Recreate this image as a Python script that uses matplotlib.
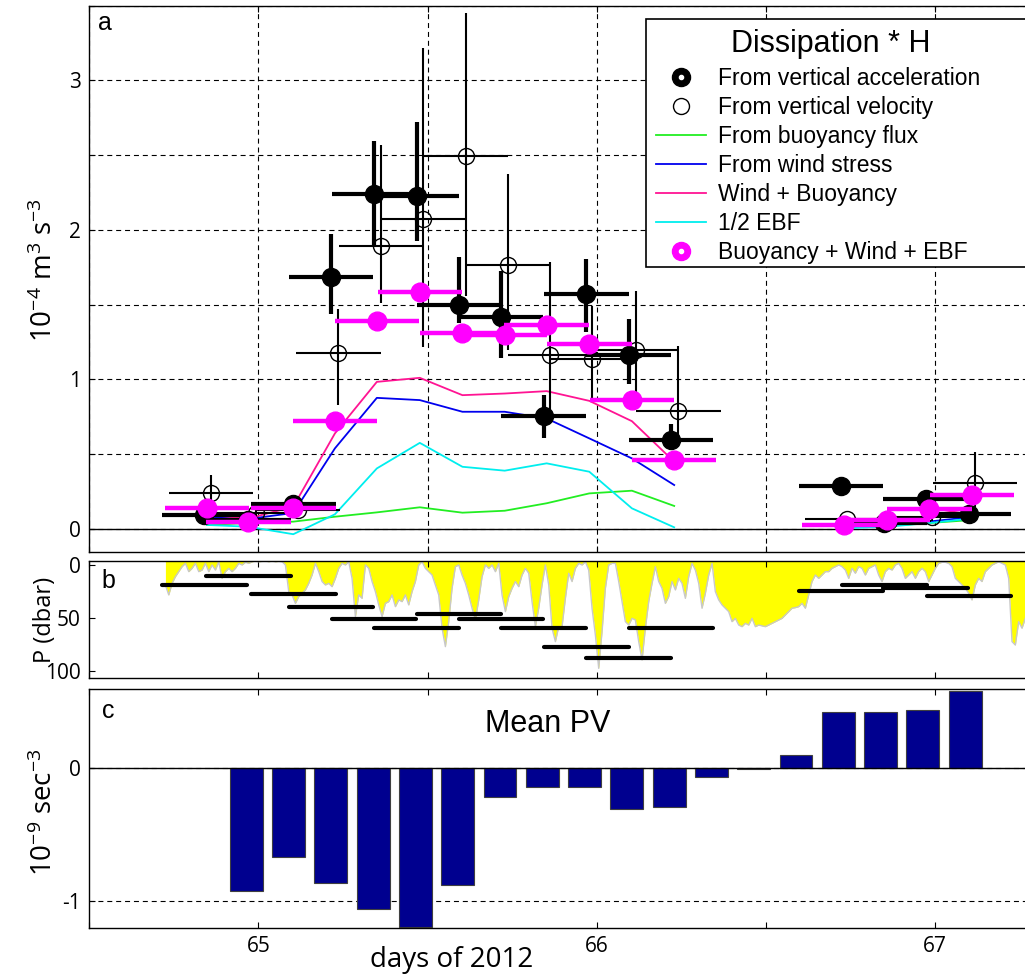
import numpy as np
import matplotlib
matplotlib.use("Agg")
import matplotlib.pyplot as plt
from matplotlib.lines import Line2D
from matplotlib.patches import Rectangle
from matplotlib.legend_handler import HandlerTuple

plt.rcParams["mathtext.default"] = "regular"

# ---------------- data ----------------
window = 0.25  # averaging window of each estimate (days)

# Dissipation*H from vertical acceleration (1e-4 m^3 s^-3)
acc_day = [64.840, 64.970, 65.103, 65.215, 65.342, 65.468, 65.593, 65.717,
           65.843, 65.969, 66.094, 66.220, 66.722, 66.850, 66.972, 67.101]
acc_val = [0.094, 0.060, 0.167, 1.683, 2.238, 2.224, 1.496, 1.418,
           0.755, 1.574, 1.162, 0.595, 0.287, 0.038, 0.198, 0.100]
acc_lo = [0.07, 0.04, 0.14, 1.44, 1.886, 1.926, 1.376, 1.142,
          0.608, 1.318, 0.973, 0.528, 0.27, 0.02, 0.18, 0.08]
acc_hi = [0.12, 0.08, 0.19, 1.97, 2.594, 2.719, 1.819, 1.725,
          0.895, 1.804, 1.407, 0.701, 0.31, 0.06, 0.22, 0.12]

# Dissipation*H from vertical velocity
vel_day = [64.860, 64.993, 65.117, 65.236, 65.362, 65.485, 65.613, 65.738,
           65.862, 65.987, 66.116, 66.241, 66.741, 66.864, 66.991, 67.118]
vel_val = [0.243, 0.107, 0.127, 1.174, 1.890, 2.075, 2.494, 1.764,
           1.162, 1.140, 1.196, 0.790, 0.065, 0.050, 0.080, 0.309]
vel_lo = [0.13, 0.07, 0.09, 0.828, 1.51, 1.218, 1.56, 1.20,
          0.75, 0.85, 0.84, 0.55, 0.04, 0.03, 0.05, 0.15]
vel_hi = [0.36, 0.14, 0.16, 1.474, 2.565, 3.22, 3.449, 2.376,
          1.786, 1.49, 1.592, 1.222, 0.09, 0.07, 0.11, 0.516]

# forcing estimates
frc_day = [64.848, 64.970, 65.103, 65.226, 65.350, 65.477, 65.603, 65.728,
           65.852, 65.978, 66.104, 66.229, 66.731, 66.859, 66.983, 67.109]
buoy = [0.027, 0.040, 0.049, 0.082, 0.111, 0.145, 0.109, 0.122,
        0.172, 0.238, 0.256, 0.154, 0.010, 0.020, 0.040, 0.060]
wind = [0.080, 0.067, 0.107, 0.539, 0.877, 0.862, 0.784, 0.784,
        0.739, 0.606, 0.472, 0.294, 0.015, 0.025, 0.050, 0.080]
wind_buoy = [0.095, 0.070, 0.149, 0.639, 0.984, 1.011, 0.895, 0.906,
             0.922, 0.857, 0.721, 0.450, 0.025, 0.045, 0.090, 0.140]
half_ebf = [0.027, 0.015, -0.035, 0.098, 0.405, 0.576, 0.416, 0.390,
            0.439, 0.383, 0.138, 0.011, 0.005, 0.015, 0.040, 0.070]
total = [0.140, 0.047, 0.140, 0.721, 1.392, 1.585, 1.314, 1.296,
         1.363, 1.236, 0.862, 0.461, 0.027, 0.060, 0.131, 0.227]

# float pressure for each estimate (dbar)
press_val = [18.5, 10.0, 27.5, 39.7, 50.5, 58.9, 46.3, 50.5,
             59.5, 76.8, 87.7, 59.2, 24.5, 19.1, 21.3, 29.2]

# mixed layer depth record (dbar), evenly sampled
mld_start, mld_end = 64.725, 67.267
mld = [18.8, 28.2, 17.3, 11.0, 6.3, 1.6, -1.5, 6.3, 3.2, -1.5,
       6.3, 4.8, -1.5, 6.3, 0.0, 4.8, -3.0, 12.6, 6.3, 3.2,
       6.3, 3.2, -1.5, 0.0, -2.5, -1.5, -3.0, -3.7, -3.0, -3.4,
       -3.7, -3.0, -3.7, -3.0, -3.4, -3.0, 0.0, 25.1, 28.2, 36.1,
       29.8, 26.6, 23.5, 17.3, 9.5, -1.5, 6.3, 15.6, 18.8, 17.3,
       20.4, 12.6, 3.2, -1.5, 0.0, -3.0, 12.6, 48.6, 28.2, 31.4,
       0.0, 3.2, 15.6, 25.1, 37.6, 48.6, 36.1, 34.5, 28.2, 39.2,
       32.9, 34.5, 28.2, 37.6, 25.1, 15.6, 0.0, -3.0, 3.2, 6.3,
       9.5, 18.8, 28.2, 59.5, 76.8, 53.3, 22.0, 1.6, 0.0, 9.5,
       17.3, 28.2, 40.7, 51.7, 32.9, 11.0, 0.0, 3.2, 0.0, 6.3,
       -1.5, 28.2, 43.9, 29.8, 22.0, 15.6, 20.4, 9.5, 3.2, 7.8,
       34.5, 58.0, 40.7, 18.8, 0.0, 18.8, 59.5, 72.1, 58.0,
       58.0, 31.4, 7.8, 15.6, 3.2, -1.5, 0.0, -3.0, 4.8, 40.7,
       65.8, 97.2, 62.7, 22.0, 0.0, -1.5, -1.5, 15.6, 34.5, 53.3,
       56.5, 50.2, 51.7, 72.1, 89.4, 59.5, 34.5, 17.3, 1.6, 15.6,
       22.0, 36.1, 29.8, 15.6, 23.5, 12.6, 17.3, 31.4, 11.0, -1.5,
       4.8, 17.3, 40.7, 26.6, 9.5, -1.5, 25.1, 32.9, 37.6, 40.7,
       43.9, 53.3, 50.2, 56.5, 58.0, 54.9, 56.5, 50.2, 58.0, 56.5,
       57.3, 58.0, 56.5, 54.9, 53.3, 51.7, 50.2, 47.0, 43.9, 40.7,
       40.1, 39.2, 36.1, 40.7, 28.2, 15.6, 9.5, 12.6, 9.5, 6.3,
       6.3, 3.2, 1.6, 0.0, 1.6, 4.8, 12.6, 3.2, 7.8, 1.6,
       3.2, 9.5, 3.2, 1.6, 0.0, 9.5, 15.6, 6.3, 3.2, 4.8,
       0.0, -1.5, 3.2, 12.6, 9.5, 6.3, 12.6, 6.3, 3.2, 6.3,
       15.6, 9.5, 3.2, -1.5, -2.5, -2.5, -1.5, 1.6, 12.6, 15.6,
       18.8, 22.0, 26.6, 32.9, 18.8, 12.6, 15.6, 6.3, 3.2, 0.0,
       -1.5, -3.0, -1.5, 0.0, 12.6, 72.1, 75.3, 53.3, 59.5, 50.2]

# mean potential vorticity (1e-9 s^-3)
pv_day = [64.964, 65.089, 65.214, 65.339, 65.464, 65.589, 65.714, 65.839, 65.964,
          66.089, 66.214, 66.339, 66.464, 66.589, 66.714, 66.839, 66.964, 67.089]
pv_val = [-0.925, -0.673, -0.867, -1.065, -1.196, -0.879, -0.221, -0.141, -0.141,
          -0.311, -0.294, -0.065, -0.010, 0.095, 0.424, 0.420, 0.440, 0.583]
pv_width = 0.097

# ---------------- figure ----------------
W, H = 1025, 976
fig = plt.figure(figsize=(W / 100, H / 100), dpi=100)


def add_axes_px(left, top, right, bottom):
    return fig.add_axes([left / W, 1 - bottom / H, (right - left) / W, (bottom - top) / H])


ax_a = add_axes_px(89.3, 5.7, 1036.5, 551.7)
ax_b = add_axes_px(89.3, 560.7, 1036.5, 677.7)
ax_c = add_axes_px(89.3, 689.3, 1036.5, 928.0)

TICK_FONT = "Open Sans"
TXT_FONT = "Liberation Sans"
xticks = [64.5, 65, 65.5, 66, 66.5, 67]

for ax in (ax_a, ax_b, ax_c):
    ax.set_xlim(64.5, 67.3)
    ax.set_xticks(xticks)
    ax.tick_params(direction="in", length=4, width=0.8, top=True, right=True,
                   labelsize=15, pad=6)
    for s in ax.spines.values():
        s.set_linewidth(1.0)

# ---- panel a ----
split = 12
segs = [slice(0, split), slice(split, None)]
a = ax_a
a.set_ylim(-0.152, 3.495)
a.set_yticks(np.arange(0, 3.51, 0.5))
a.set_yticklabels(["0", "", "1", "", "2", "", "3", ""], family=TICK_FONT)
a.set_xticklabels([])
a.grid(True, color="k", linestyle=(0, (4.5, 3.5)), linewidth=0.8)
a.axhline(0, color="k", lw=1.0, zorder=1.5)

d = np.array(frc_day)
for sl in segs:
    a.plot(d[sl], np.array(buoy)[sl], color="#22ee22", lw=1.3, zorder=3)
    a.plot(d[sl], np.array(wind)[sl], color="#0000ee", lw=1.3, zorder=3)
    a.plot(d[sl], np.array(wind_buoy)[sl], color="#ff1493", lw=1.3, zorder=3)
    a.plot(d[sl], np.array(half_ebf)[sl], color="#00eeee", lw=1.3, zorder=3)

vv = np.array(vel_val)
a.errorbar(vel_day, vel_val, xerr=window / 2,
           yerr=[vv - np.array(vel_lo), np.array(vel_hi) - vv],
           fmt="o", ms=11.5, mfc="none", mec="k", mew=1.0, ecolor="k",
           elinewidth=1.5, capsize=0, zorder=4)
av = np.array(acc_val)
a.errorbar(acc_day, acc_val, xerr=window / 2,
           yerr=[av - np.array(acc_lo), np.array(acc_hi) - av],
           fmt="o", ms=13, mfc="k", mec="k", ecolor="k",
           elinewidth=3.0, capsize=0, zorder=5)
a.errorbar(frc_day, total, xerr=window / 2, fmt="o", ms=13.5, mfc="#ff00ff",
           mec="#ff00ff", ecolor="#ff00ff", elinewidth=3.2, capsize=0, zorder=6)

a.text(0.009, 0.99, "a", transform=a.transAxes, ha="left", va="top",
       fontsize=18, family=TXT_FONT)

# legend: framed box, separate title, entries
a.add_patch(Rectangle((0.5877, 0.5214), 0.416, 0.4542, transform=a.transAxes,
                      facecolor="w", edgecolor="k", lw=1.2, zorder=9, clip_on=False))
a.text(0.783, 0.9158, "Dissipation * H", transform=a.transAxes, ha="center",
       va="baseline", fontsize=22, family=TXT_FONT, zorder=11)

white_dot = Line2D([], [], ls="none", marker="o", ms=3, mfc="w", mec="w")
handles = [
    (Line2D([], [], ls="none", marker="o", ms=13, mfc="k", mec="k"), white_dot),
    Line2D([], [], ls="none", marker="o", ms=11.5, mfc="w", mec="k", mew=1.0),
    Line2D([], [], color="#22ee22", lw=1.3),
    Line2D([], [], color="#0000ee", lw=1.3),
    Line2D([], [], color="#ff1493", lw=1.3),
    Line2D([], [], color="#00eeee", lw=1.3),
    (Line2D([], [], ls="none", marker="o", ms=13, mfc="#ff00ff", mec="#ff00ff"), white_dot),
]
labels = ["From vertical acceleration", "From vertical velocity", "From buoyancy flux",
          "From wind stress", "Wind + Buoyancy", "1/2 EBF", "Buoyancy + Wind + EBF"]
leg = a.legend(handles, labels, handler_map={tuple: HandlerTuple(ndivide=1)},
               loc="upper left", bbox_to_anchor=(0.5983, 0.8877),
               prop={"family": TXT_FONT, "size": 16.5}, frameon=False,
               handlelength=2.18, handletextpad=0.52, borderpad=0,
               labelspacing=0.265, borderaxespad=0)
leg.set_zorder(11)

# ---- panel b ----
b = ax_b
b.set_ylim(106, -4)
b.set_yticks([0, 50, 100])
b.set_yticklabels(["0", "50", "100"], family=TICK_FONT)
b.set_xticklabels([])
t_mld = np.linspace(mld_start, mld_end, len(mld))
b.fill_between(t_mld, -4, mld, color="#ffff00", lw=0, zorder=1)
b.plot(t_mld, mld, color="#c8c8c8", lw=1.0, zorder=2)
pb = b.hlines(press_val, np.array(acc_day) - window / 2, np.array(acc_day) + window / 2,
              color="k", lw=3.0, zorder=3)
pb.set_capstyle("round")
b.text(0.013, 0.93, "b", transform=b.transAxes, ha="left", va="top",
       fontsize=18, family=TXT_FONT)

# ---- panel c ----
c = ax_c
c.set_ylim(-1.206, 0.593)
c.set_yticks([-1, 0])
c.set_yticklabels(["-1", "0"], family=TICK_FONT)
c.set_xticklabels(["", "65", "", "66", "", "67"], family=TICK_FONT)
c.yaxis.grid(True, color="k", linestyle=(0, (4.5, 3.5)), linewidth=0.8)
c.bar(pv_day, pv_val, width=pv_width, color="#00008f", edgecolor="#404040",
      linewidth=0.8, zorder=2)
c.axhline(0, color="k", lw=1.0, zorder=3)
c.text(0.4837, 0.822, "Mean PV", transform=c.transAxes, ha="center", va="baseline",
       fontsize=22, family=TXT_FONT)
c.text(0.013, 0.96, "c", transform=c.transAxes, ha="left", va="top",
       fontsize=18, family=TXT_FONT)

# ---- axis labels ----
fig.text(45 / W, 1 - 270 / H, r"10$^{-4}$ m$^3$ s$^{-3}$", rotation=90,
         ha="center", va="center", fontsize=20, family=TICK_FONT)
fig.text(45 / W, 1 - 620 / H, "P (dbar)", rotation=90,
         ha="center", va="center", fontsize=17, family=TICK_FONT)
fig.text(45 / W, 1 - 812 / H, r"10$^{-9}$ sec$^{-3}$", rotation=90,
         ha="center", va="center", fontsize=20, family=TICK_FONT)
fig.text(452 / W, 1 - 960 / H, "days of 2012", ha="center", va="center",
         fontsize=20, family=TICK_FONT)

fig.savefig("out.png", dpi=100)
